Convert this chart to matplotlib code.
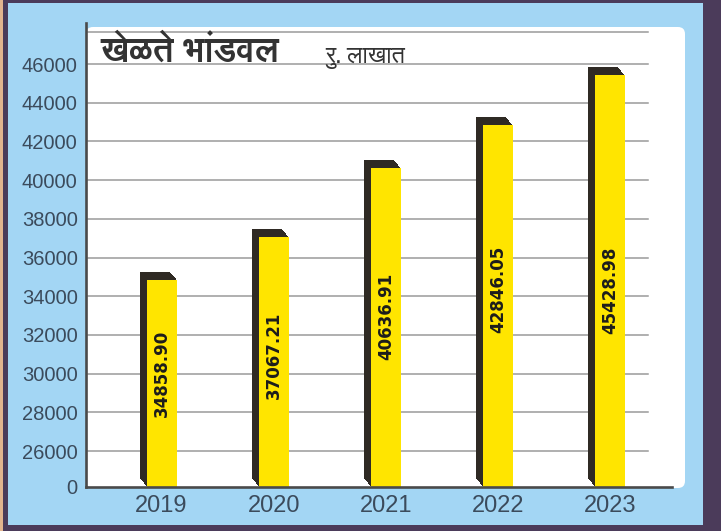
import numpy as np
import matplotlib
matplotlib.use('Agg')
import matplotlib.pyplot as plt
from matplotlib import font_manager, transforms
from matplotlib.patches import FancyBboxPatch, Rectangle
from matplotlib.ft2font import FT2Font

# ---------------- data ----------------
years = ['2019', '2020', '2021', '2022', '2023']
values = [34858.90, 37067.21, 40636.91, 42846.05, 45428.98]
value_labels = ['34858.90', '37067.21', '40636.91', '42846.05', '45428.98']
ytick_values = [0, 26000, 28000, 30000, 32000, 34000, 36000, 38000,
                40000, 42000, 44000, 46000]
ytick_labels = ['0', '26000', '28000', '30000', '32000', '34000', '36000',
                '38000', '40000', '42000', '44000', '46000']
title_text = 'खेळते भांडवल'
unit_text = 'रु. लाखात'

# label anchor heights (layout)
label_y = [29990, 30920, 32940, 34340, 34290]


def find_devanagari():
    found = {}
    for f in font_manager.fontManager.ttflist:
        try:
            cmap = FT2Font(f.fname).get_charmap()
        except Exception:
            continue
        if 0x0916 in cmap and 0x0933 in cmap:
            found.setdefault(f.name, []).append(f.weight)
    if not found:
        return None
    for name, ws in found.items():
        if any((w == 'bold') or (isinstance(w, int) and w >= 600) for w in ws):
            return name
    return list(found.keys())[0]


deva = find_devanagari()
deva_family = [deva, 'DejaVu Sans'] if deva else ['DejaVu Sans']

W, H, DPI = 721, 531, 100
fig = plt.figure(figsize=(W / DPI, H / DPI), dpi=DPI)
fig.patch.set_facecolor('#a3d6f4')


def px_rect(x0, y0, x1, y1, color, z):
    # pixel coords with origin at top-left
    r = Rectangle((x0 / W, 1 - y1 / H), (x1 - x0) / W, (y1 - y0) / H,
                  transform=fig.transFigure, facecolor=color, edgecolor='none',
                  zorder=z)
    fig.add_artist(r)


# borders
px_rect(703, 0, 721, 531, '#4b3b5a', -4)
px_rect(0, 0, 721, 3, '#4b3b5a', -4)
px_rect(0, 525, 721, 531, '#4b3b5a', -4)
px_rect(3, 0, 8, 531, '#4b3b5a', -4)
px_rect(0, 0, 3, 531, '#e2b48e', -4)

# white rounded panel
panel = FancyBboxPatch((86 / DPI, (H - 488) / DPI), (685 - 86) / DPI, (488 - 27) / DPI,
                       boxstyle='round,pad=0,rounding_size=0.07',
                       transform=fig.dpi_scale_trans, facecolor='white',
                       edgecolor='none', zorder=-3)
fig.add_artist(panel)

ax = fig.add_axes([86 / W, 44 / H, (672 - 86) / W, (487 - 23) / H])
ax.set_facecolor('none')

K = 0.93


def fwd(v):
    v = np.asarray(v, dtype=float)
    return np.where(v < 26000, v / 26000 * K, K + (v - 26000) / 2000)


def inv(u):
    u = np.asarray(u, dtype=float)
    return np.where(u < K, u / K * 26000, 26000 + (u - K) * 2000)


ax.set_yscale('function', functions=(fwd, inv))
ax.set_ylim(0, 48120)
x = np.arange(len(years))
ax.set_xlim(-0.674, 4.553)

# gridlines
for t in ytick_values[1:] + [47650]:
    ax.axhline(t, xmin=0.003, xmax=0.959, color='#9a9a9a', lw=1.1, zorder=1)

bw = 0.268
dark = '#2f2a24'
steps = 7
for xi, v in zip(x, values):
    for k in range(1, steps + 1):
        off = transforms.ScaledTranslation(-k * 1.0 / DPI, k * (8.0 / 7.0) / DPI,
                                           fig.dpi_scale_trans)
        r = Rectangle((xi - bw / 2, 0), bw, v, transform=ax.transData + off,
                      facecolor=dark, edgecolor='none', zorder=2)
        ax.add_patch(r)
ax.bar(x, values, width=bw, color='#ffe500', edgecolor='none', zorder=3)

for xi, ly, lab in zip(x, label_y, value_labels):
    ax.text(xi, ly, lab, rotation=90, ha='center', va='center', fontsize=12,
            fontweight='bold', family='DejaVu Sans', color='#1c1c1c', zorder=4)

ax.set_yticks(ytick_values)
ax.set_yticklabels(ytick_labels)
ax.set_xticks(x)
ax.set_xticklabels(years)
ax.tick_params(axis='y', length=0, pad=6, labelsize=14.5, labelcolor='#3b4b5c')
ax.tick_params(axis='x', length=0, pad=6, labelsize=17, labelcolor='#3b4b5c')
for lab in ax.get_yticklabels() + ax.get_xticklabels():
    lab.set_family('Liberation Sans')
for s in ['top', 'right']:
    ax.spines[s].set_visible(False)
for s in ['left', 'bottom']:
    ax.spines[s].set_color('#4a4a4a')
    ax.spines[s].set_linewidth(1.9)
    ax.spines[s].set_zorder(5)

fig.text(100 / W, 1 - 61 / H, title_text, family=deva_family, fontweight='bold',
         fontsize=25, color='#333333', va='baseline', ha='left')
fig.text(325 / W, 1 - 63 / H, unit_text, family=deva_family, fontsize=17,
         color='#333333', va='baseline', ha='left')

fig.savefig('out.png', dpi=DPI, facecolor=fig.get_facecolor())
